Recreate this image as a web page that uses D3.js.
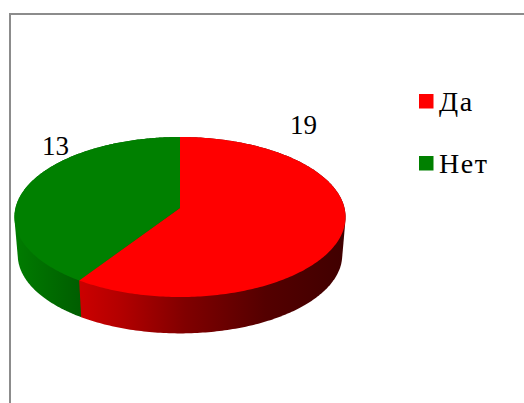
<!DOCTYPE html>
<html>
<head>
<meta charset="utf-8">
<script src="https://cdn.jsdelivr.net/npm/d3@7"></script>
<style>
  html, body { margin: 0; padding: 0; background: #fff; overflow: hidden; }
  svg { display: block; }
  text { font-family: "Liberation Serif", serif; fill: #000; }
</style>
</head>
<body>
<script>
const categories = ["Да", "Нет"]
const values = [19, 13]
const colors = ["#ff0000", "#008000"]

const width = 524
const height = 403
const cx = 180
const depthScale = 0.98
// perspective of the tilted disc
const K = 164.5, persp = -0.1125, ya = 55.6, yb = 208

const svg = d3.select("body").append("svg")
    .attr("width", width)
    .attr("height", height)

// chart frame, runs off the right and bottom of the picture
svg.append("rect")
    .attr("x", 10).attr("y", 14)
    .attr("width", width + 20).attr("height", height + 20)
    .attr("fill", "#fff")
    .attr("stroke", "#8c8c8c")
    .attr("stroke-width", 2)

const defs = svg.append("defs")
const sideStops = [
    [[0, "#cc0000"], [0.15, "#b40000"], [0.4, "#800000"], [0.7, "#540000"], [1, "#400000"]],
    [[0, "#007c00"], [1, "#005e00"]]
]
const sideRange = [[79, 345], [14, 80]]
sideStops.forEach((stops, i) => {
    defs.append("linearGradient")
        .attr("id", "side" + i)
        .attr("gradientUnits", "userSpaceOnUse")
        .attr("x1", sideRange[i][0]).attr("x2", sideRange[i][1])
        .attr("y1", 0).attr("y2", 0)
      .selectAll("stop")
      .data(stops)
      .join("stop")
        .attr("offset", d => d[0])
        .attr("stop-color", d => d[1])
})

const topPoint = (a, r = 1) => {
    const u = r * Math.sin(a), v = -r * Math.cos(a)
    const w = 1 + persp * v
    return [cx + K * u / w, (ya * v + yb) / w]
}
const bottomPoint = a => {
    const p = topPoint(a)
    return [cx + (p[0] - cx) * depthScale, 254 + (p[1] - 216) * depthScale]
}

const arcs = d3.pie().sort(null)(values)
const angles = d => d3.range(0, 241).map(i => d.startAngle + (d.endAngle - d.startAngle) * i / 240)
const line = d3.line().curve(d3.curveLinear)

// wall of each slice is the hull of its two rims; the top of the disc hides the rest.
// drawn last slice first so the red wall covers the green hull past the split
svg.append("g").selectAll("path")
    .data(arcs.map((d, i) => ({ d, i })).reverse())
    .join("path")
    .attr("fill", s => `url(#side${s.i})`)
    .attr("d", s => line(d3.polygonHull(angles(s.d).flatMap(a => [topPoint(a), bottomPoint(a)]))) + "Z")

svg.append("g").selectAll("path")
    .data(arcs)
    .join("path")
    .attr("fill", (d, i) => colors[i])
    .attr("d", d => line([topPoint(0, 0)].concat(angles(d).map(a => topPoint(a)))) + "Z")

// data labels, placed by hand in the original
const labelPos = [[290, 134], [42, 155]]
svg.append("g").selectAll("text")
    .data(values)
    .join("text")
    .attr("x", (d, i) => labelPos[i][0])
    .attr("y", (d, i) => labelPos[i][1])
    .attr("font-size", 27)
    .text(d => d)

const legendY = d3.scalePoint().domain(categories).range([101, 163])
const legend = svg.append("g").selectAll("g")
    .data(categories)
    .join("g")
    .attr("transform", d => `translate(419,${legendY(d)})`)
legend.append("rect")
    .attr("y", -7)
    .attr("width", 14.5).attr("height", 14.5)
    .attr("fill", (d, i) => colors[i])
legend.append("text")
    .attr("x", 20)
    .attr("y", 10)
    .attr("font-size", 28)
    .attr("letter-spacing", 1.6)
    .text(d => d)
</script>
</body>
</html>
